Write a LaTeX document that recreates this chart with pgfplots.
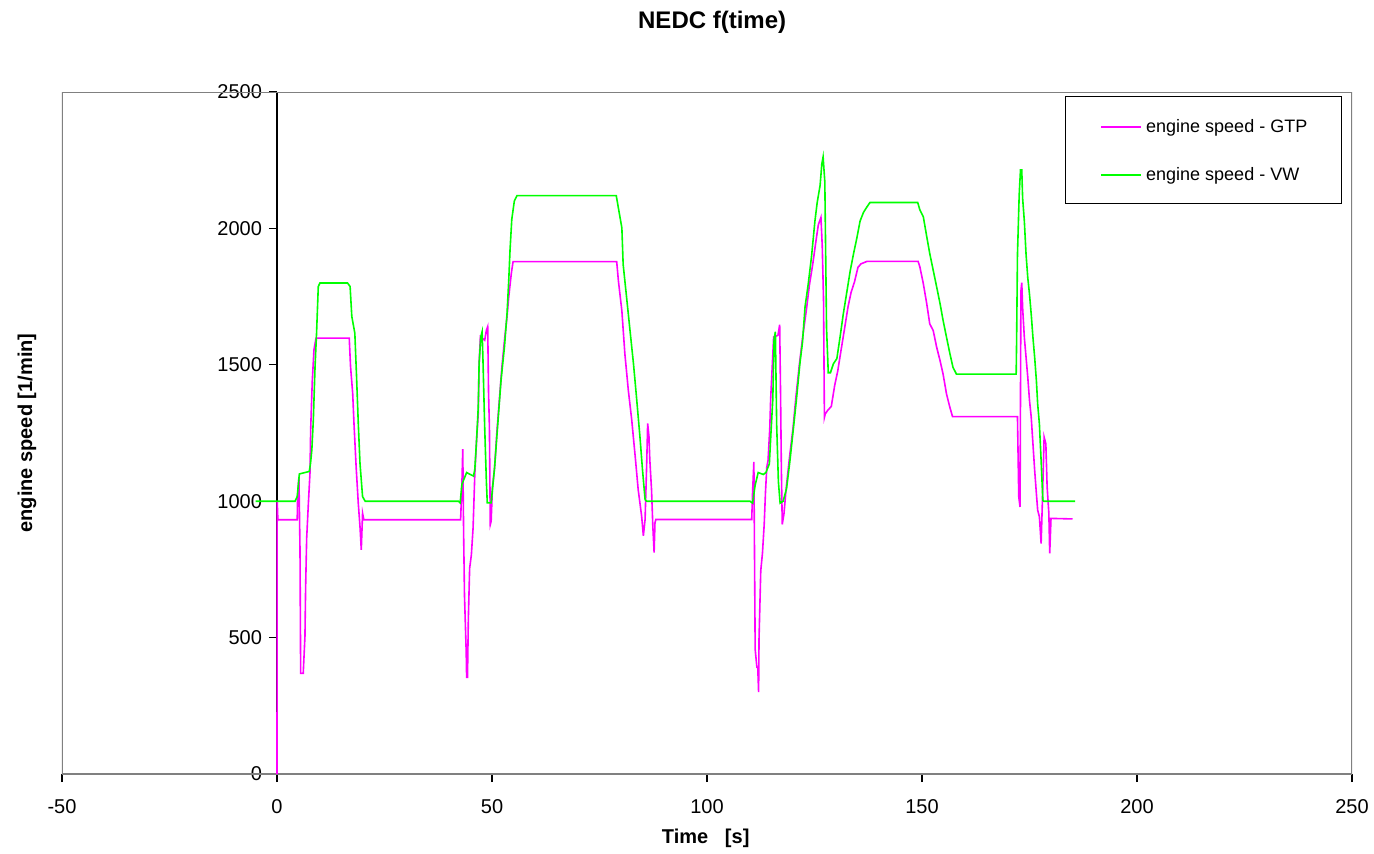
\documentclass[border=0pt]{standalone}
\usepackage{pgfplots}
\pgfplotsset{compat=1.18}
\usepackage{fontspec}
\setmainfont{Liberation Sans}
\definecolor{mag}{RGB}{255,0,255}
\definecolor{grn}{RGB}{0,255,0}
\begin{document}
\begin{tikzpicture}
\useasboundingbox (-31pt,-39.5pt) rectangle (656pt,387pt);
\begin{axis}[
  scale only axis, width=645pt, height=341pt,
  xmin=-50, xmax=250, ymin=0, ymax=2500,
  axis lines=middle,
  axis line style={-, black, line width=0.6pt},
  xtick={-50,0,...,250}, ytick={0,500,...,2500},
  hide obscured x ticks=false, hide obscured y ticks=false,
  scaled ticks=false,
  /pgf/number format/1000 sep={},
  /pgf/number format/assume math mode=true,
  tick align=outside, major tick length=4pt,
  tick style={black, line width=0.6pt},
  ticklabel style={font=\fontsize{10}{12}\selectfont},
  x tick label style={anchor=north, yshift=-5pt},
  y tick label style={anchor=east},
  title={NEDC f(time)},
  title style={at={(axis description cs:0.504,1)}, yshift=29pt, anchor=center, font=\bfseries\fontsize{12}{14}\selectfont},
  xlabel={Time\ \ \ [s]},
  xlabel style={at={(axis description cs:0.499,0)}, yshift=-32pt, anchor=center, font=\bfseries\fontsize{10}{12}\selectfont},
  ylabel={engine speed [1/min]},
  ylabel style={at={(axis description cs:0,0.5)}, xshift=-17.5pt, anchor=center, rotate=90, font=\bfseries\fontsize{10}{12}\selectfont},
  legend style={at={(axis description cs:0.992,0.993)}, anchor=north east, draw=none, fill=none,
    font=\fontsize{9}{11}\selectfont, row sep=12pt, inner xsep=15pt, inner ysep=9pt},
  legend cell align=left,
  legend image code/.code={\draw[#1] (0pt,0pt) -- (20pt,0pt);},
]
\draw[gray, line width=0.6pt] (rel axis cs:0,0) rectangle (rel axis cs:1,1);
\draw[black, line width=0.6pt, fill=white] (rel axis cs:0.778,0.836) rectangle (rel axis cs:0.992,0.993);
\addplot[color=mag, line width=0.8pt] table {
t v
0 0
0.05 1000
0.2 932
4.7 932
4.8 1017
5.1 1090
5.35 822
5.5 369
6.1 369
6.5 504
6.66 687
6.9 864
7.3 993
7.67 1103
7.83 1262
8.2 1439
8.6 1555
9.07 1598
16.8 1598
17.1 1494
17.6 1396
17.9 1286
18.4 1127
18.9 993
19.3 907
19.6 822
19.9 956
20.2 932
42.7 932
43.0 1062
43.2 1191
43.4 883
43.6 656
44.0 447
44.1 354
44.3 354
44.5 570
44.8 754
45.2 803
45.6 902
46.0 1098
46.4 1221
46.8 1320
47.0 1504
47.3 1603
48.3 1590
48.7 1627
49.0 1640
49.2 1394
49.4 1271
49.6 914
49.8 926
50.1 1049
50.6 1123
51.1 1246
51.7 1369
52.3 1492
52.9 1590
53.5 1677
53.9 1750
54.5 1836
54.9 1878
79.0 1878
79.4 1807
80.2 1698
80.9 1540
81.7 1407
82.5 1297
83.3 1164
84.0 1042
84.8 945
85.2 873
85.6 933
86.0 1152
86.2 1285
86.5 1237
86.7 1152
87.1 1042
87.4 909
87.7 812
87.9 921
88.1 933
110.4 933
110.6 1033
110.9 1144
111.2 457
111.6 392
111.8 392
112.0 300
112.1 496
112.5 745
112.9 810
113.3 915
113.6 1033
113.9 1124
114.2 1150
114.6 1268
114.8 1373
115.2 1504
115.5 1602
116.5 1608
116.9 1647
117.1 1399
117.3 1111
117.5 915
117.9 954
118.4 1046
119.2 1163
120.0 1268
120.7 1386
121.5 1504
122.3 1608
123.1 1700
123.8 1791
124.6 1870
125.4 1961
125.9 2014
126.5 2040
126.8 1935
127.1 1739
127.3 1307
127.5 1320
128.1 1334
128.9 1347
129.7 1425
130.4 1477
131.2 1556
132.0 1634
132.8 1713
133.5 1765
134.3 1804
135.1 1857
135.8 1870
137.2 1879
149.1 1879
149.5 1859
150.3 1798
151.1 1724
151.8 1650
152.6 1626
153.4 1565
154.2 1515
154.9 1466
155.7 1393
156.5 1343
157.1 1310
172.2 1310
172.5 1016
172.8 979
173.0 1770
173.2 1801
173.4 1709
173.8 1600
174.2 1527
174.6 1454
175.0 1369
175.4 1308
175.8 1210
176.2 1113
176.6 1028
176.9 967
177.3 943
177.7 845
178.0 1000
178.4 1235
178.8 1210
179.1 1052
179.5 955
179.7 809
180.0 937
185.0 935
};
\addlegendentry{engine speed - GTP}
\addplot[color=grn, line width=0.8pt] table {
t v
-5 1000
4.2 1000
4.7 1017
5.2 1100
7.5 1109
7.8 1139
8.1 1188
8.45 1298
8.85 1494
9.2 1616
9.6 1787
10.0 1800
16.4 1800
17.0 1787
17.4 1677
18.1 1616
18.5 1457
18.9 1286
19.3 1139
19.9 1017
20.5 1000
42.2 1000
42.6 994
43.0 1062
44.1 1105
45.7 1092
46.0 1117
46.4 1221
46.8 1344
47.0 1504
47.4 1603
47.7 1621
47.9 1517
48.3 1271
48.7 1068
48.9 994
49.8 994
50.6 1123
51.4 1295
52.1 1443
52.9 1566
53.5 1689
53.9 1812
54.2 1923
54.6 2033
55.2 2101
55.8 2120
78.9 2120
79.4 2074
80.2 2002
80.5 1868
81.3 1747
82.1 1625
82.9 1504
83.6 1382
84.4 1237
85.0 1115
85.6 1006
86.0 1000
110.0 1000
110.6 993
111.2 1059
111.9 1105
113.1 1098
113.7 1105
114.5 1137
114.8 1229
115.3 1373
115.6 1595
115.9 1621
116.2 1281
116.6 1072
117.0 993
117.7 1000
118.5 1046
119.3 1150
120.1 1268
120.8 1373
121.6 1504
122.2 1582
122.8 1713
123.5 1791
124.3 1896
125.1 2027
125.6 2092
126.3 2158
126.7 2236
127.0 2262
127.4 2171
127.8 1634
128.2 1471
128.7 1471
129.4 1504
130.2 1523
131.0 1608
131.7 1687
132.5 1765
133.3 1844
134.1 1909
134.8 1961
135.6 2027
136.4 2059
137.2 2079
137.9 2095
149.0 2095
149.5 2068
150.3 2043
151.1 1970
151.8 1908
152.6 1847
153.4 1786
154.2 1724
154.9 1663
155.7 1601
156.5 1540
157.2 1491
158.0 1466
171.9 1466
172.0 1588
172.2 1904
172.6 2123
172.9 2214
173.2 2214
173.4 2111
173.8 2026
174.2 1904
174.6 1819
175.0 1758
175.4 1685
175.8 1600
176.2 1527
176.6 1442
176.9 1356
177.3 1283
177.7 1149
178.1 1004
178.3 1000
185.6 1000
};
\addlegendentry{engine speed - VW}
\end{axis}
\end{tikzpicture}
\end{document}
